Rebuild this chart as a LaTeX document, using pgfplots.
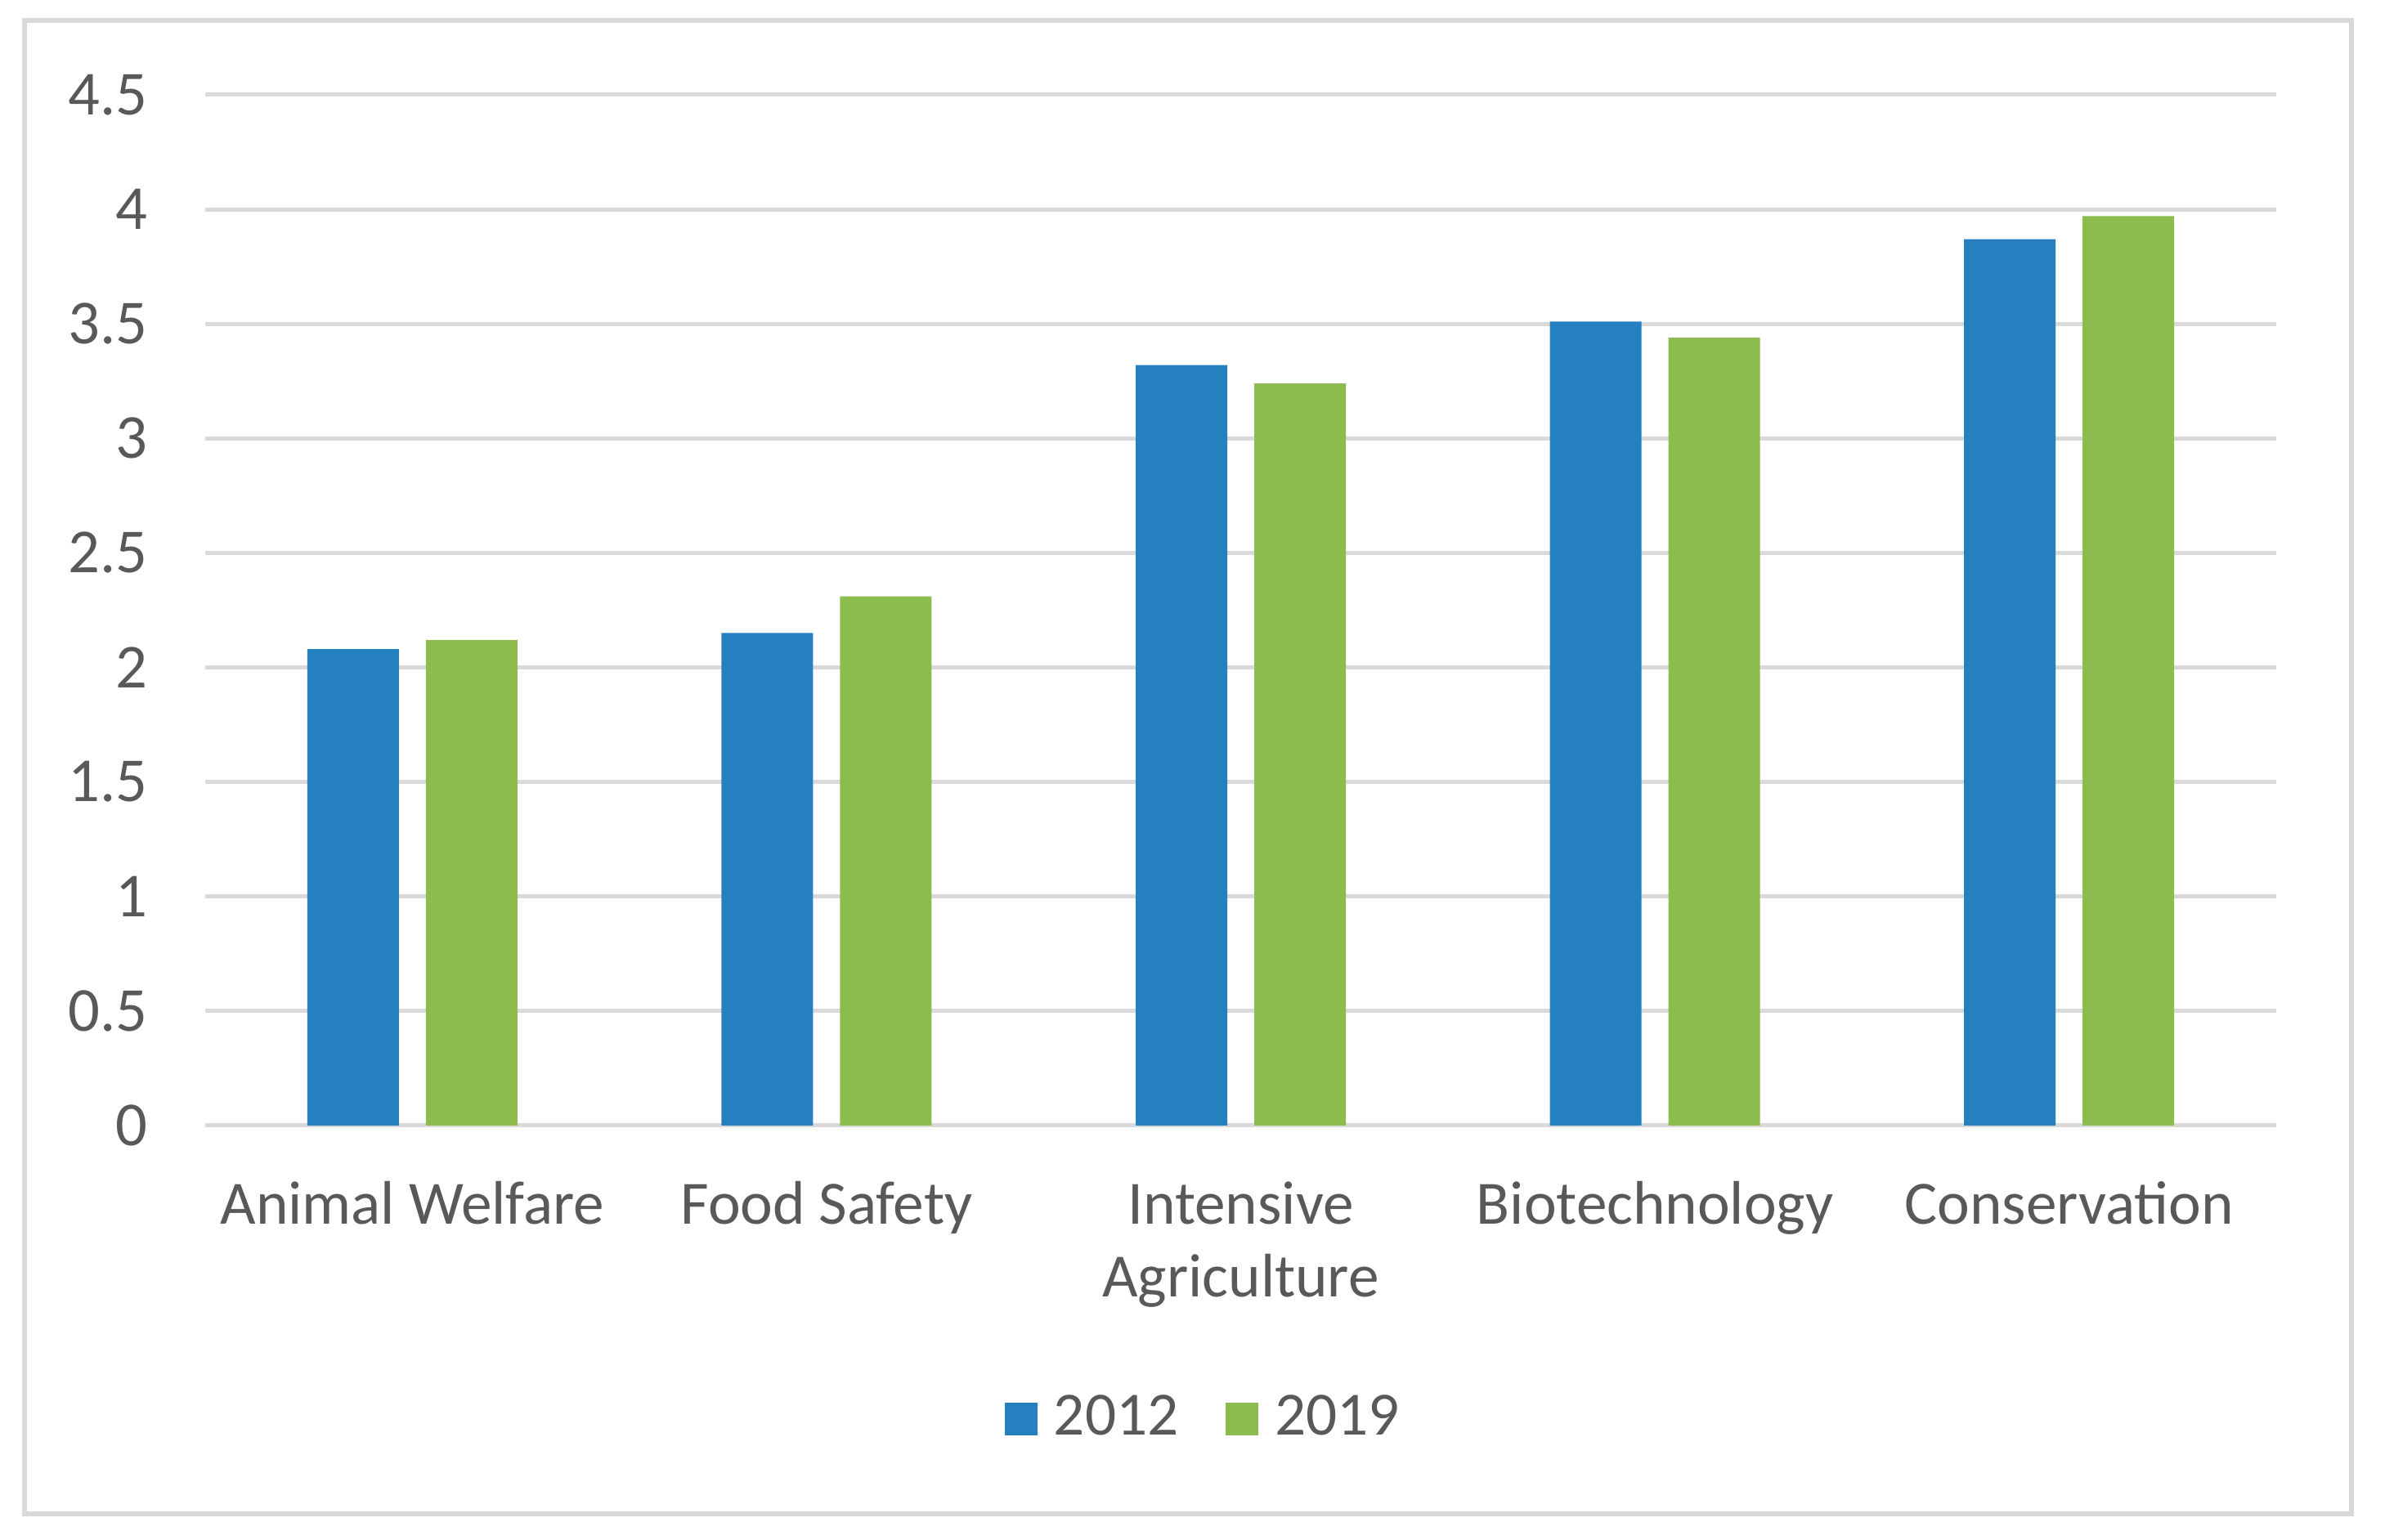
\documentclass[border=0pt]{standalone}
\usepackage{pgfplots}
\pgfplotsset{compat=1.18}
\usepackage{fontspec}
\setmainfont{Carlito}
\definecolor{barblue}{HTML}{2580C0}
\definecolor{bargreen}{HTML}{8CBB4E}
\definecolor{txtgray}{HTML}{595959}
\definecolor{gridgray}{HTML}{D9D9D9}
\begin{document}
\fontsize{10.7pt}{12.6pt}\selectfont
\begin{tikzpicture}
\path[use as bounding box] (0,0) rectangle (145.85mm,94.2mm);
\draw[gridgray, line width=0.28mm] (1.5mm,1.6mm) rectangle (143.8mm,92.95mm);
\begin{axis}[
  at={(12.55mm,25.35mm)}, anchor=south west,
  width=126.65mm, height=63.05mm, scale only axis,
  xmin=-0.5, xmax=4.5, ymin=0, ymax=4.5,
  ybar,
  axis line style={draw=none},
  tick style={draw=none},
  major tick length=0pt,
  ymajorgrids,
  grid style={gridgray, line width=0.25mm},
  ytick={0,0.5,1,1.5,2,2.5,3,3.5,4,4.5},
  xtick={0,1,2,3,4},
  xticklabels={Animal Welfare, Food Safety, {\begin{tabular}[t]{@{}c@{}}Intensive\\Agriculture\end{tabular}}, Biotechnology, Conservation},
  /pgf/number format/assume math mode=true,
  every tick label/.append style={text=txtgray, inner sep=0pt},
  yticklabel style={anchor=east, xshift=-3.45mm, font=\fontsize{10.9pt}{12.6pt}\selectfont},
  xticklabel style={anchor=base, yshift=-6.05mm, font=\fontsize{10.7pt}{12.6pt}\selectfont},
  legend style={at={(0.4814,-0.285)}, anchor=center, draw=none, fill=none,
    legend columns=2, font=\fontsize{10.7pt}{12.6pt}\selectfont, text=txtgray,
    inner sep=0pt, outer sep=0pt, nodes={inner sep=0pt},
    /tikz/every odd column/.append style={column sep=1mm},
    /tikz/every even column/.append style={column sep=2.9mm}},
  legend image code/.code={\path[#1] (0mm,-1mm) rectangle (2mm,1mm);},
]
\addplot[ybar, bar width=5.6mm, bar shift=-3.625mm, fill=barblue, draw=none]
  coordinates {(0,2.08) (1,2.15) (2,3.32) (3,3.51) (4,3.87)};
\addplot[ybar, bar width=5.6mm, bar shift=3.625mm, fill=bargreen, draw=none]
  coordinates {(0,2.12) (1,2.31) (2,3.24) (3,3.44) (4,3.97)};
\legend{2012,2019}
\end{axis}
\end{tikzpicture}
\end{document}
